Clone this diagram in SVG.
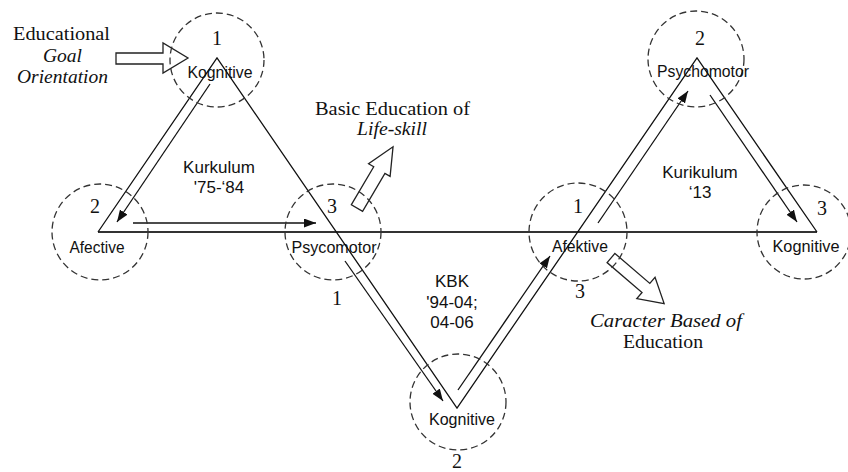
<svg xmlns="http://www.w3.org/2000/svg" width="848" height="472" viewBox="0 0 848 472">
<defs>
<style>
.ring{fill:none;stroke:#333;stroke-width:1.3;stroke-dasharray:7 4}
.lbl{font-family:"Liberation Sans",Arial,sans-serif;font-size:17px;fill:#111;text-anchor:middle}
.cur{font-family:"Liberation Sans",Arial,sans-serif;font-size:17px;fill:#111;text-anchor:middle}
.num{font-family:"Liberation Serif","Times New Roman",serif;font-size:20px;fill:#111;text-anchor:middle}
.ser{font-family:"Liberation Serif","Times New Roman",serif;font-size:18px;fill:#111;text-anchor:middle}
.it{font-style:italic}
.edge{fill:none;stroke:#111;stroke-width:1.3}
.base{fill:none;stroke:#333;stroke-width:2}
.arr{fill:none;stroke:#111;stroke-width:1.3;marker-end:url(#ah)}
.blk{fill:#fff;stroke:#222;stroke-width:1.3;stroke-linejoin:miter}
</style>
<marker id="ah" markerUnits="userSpaceOnUse" markerWidth="12" markerHeight="10" refX="12" refY="4.5" orient="auto">
<path d="M0,0 L12,4.5 L0,9 z" fill="#111"/>
</marker>
</defs>
<rect width="848" height="472" fill="#fff"/>

<g id="connectors">
<line class="base" x1="98" y1="232" x2="817" y2="232"/>
<polyline class="edge" points="98,232 217,58 457,408 697,58 817,232"/>
<line class="arr" x1="210" y1="84" x2="117" y2="222"/>
<line class="arr" x1="133" y1="223" x2="316" y2="223"/>
<line class="arr" x1="345" y1="261" x2="443" y2="401"/>
<line class="arr" x1="458" y1="390" x2="550" y2="256"/>
<line class="arr" x1="598" y1="223" x2="688" y2="91"/>
<line class="arr" x1="710" y1="95" x2="797" y2="222"/>
<path class="blk" d="M116,53 L163,53 L163,43 L188,58 L163,73 L163,64 L116,64 z"/>
<path class="blk" transform="translate(357,208) rotate(-59.5)" d="M0,-6.5 L44,-6.5 L44,-12.5 L71,0 L44,12.5 L44,6.5 L0,6.5 z"/>
<path class="blk" transform="translate(611,258) rotate(40.6)" d="M0,-6 L46,-6 L46,-14 L70,0 L46,14 L46,6 L0,6 z"/>
</g>

<g id="node-kognitive-1">
<circle class="ring" cx="217" cy="60" r="47"/>
<text class="num" x="217" y="45">1</text>
<text class="lbl" x="220" y="78" textLength="65" lengthAdjust="spacingAndGlyphs">Kognitive</text>
</g>
<g id="node-afective">
<circle class="ring" cx="100" cy="232" r="48"/>
<text class="num" x="95" y="213">2</text>
<text class="lbl" x="97" y="253" textLength="55" lengthAdjust="spacingAndGlyphs">Afective</text>
</g>
<g id="node-psycomotor">
<circle class="ring" cx="333" cy="232" r="48"/>
<text class="num" x="332" y="213">3</text>
<text class="lbl" x="334" y="253" textLength="85" lengthAdjust="spacingAndGlyphs">Psycomotor</text>
<text class="num" x="337" y="305">1</text>
</g>
<g id="node-kognitive-2">
<circle class="ring" cx="458" cy="402" r="48"/>
<text class="lbl" x="462" y="425" textLength="66" lengthAdjust="spacingAndGlyphs">Kognitive</text>
<text class="num" x="457" y="468">2</text>
</g>
<g id="node-afektive">
<circle class="ring" cx="578" cy="232" r="49"/>
<text class="num" x="578" y="213">1</text>
<text class="lbl" x="580" y="252" textLength="56" lengthAdjust="spacingAndGlyphs">Afektive</text>
<text class="num" x="580" y="298">3</text>
</g>
<g id="node-psychomotor">
<circle class="ring" cx="696" cy="59" r="48"/>
<text class="num" x="700" y="45">2</text>
<text class="lbl" x="703" y="77" textLength="92" lengthAdjust="spacingAndGlyphs">Psychomotor</text>
</g>
<g id="node-kognitive-3">
<circle class="ring" cx="804" cy="232" r="47"/>
<text class="num" x="822" y="215">3</text>
<text class="lbl" x="806" y="252" textLength="67" lengthAdjust="spacingAndGlyphs">Kognitive</text>
</g>

<g id="labels">
<text class="cur" x="219" y="173">Kurkulum</text>
<text class="cur" x="219" y="193">'75-‘84</text>
<text class="cur" x="452" y="287">KBK</text>
<text class="cur" x="452" y="308">'94-04;</text>
<text class="cur" x="452" y="328">04-06</text>
<text class="cur" x="700" y="178">Kurikulum</text>
<text class="cur" x="700" y="198">‘13</text>
<text class="ser" x="61.5" y="40" textLength="97" lengthAdjust="spacingAndGlyphs">Educational</text>
<text class="ser it" x="62.5" y="62" textLength="39" lengthAdjust="spacingAndGlyphs">Goal</text>
<text class="ser it" x="62.5" y="83" textLength="91" lengthAdjust="spacingAndGlyphs">Orientation</text>
<text class="ser" x="392.5" y="115" textLength="155" lengthAdjust="spacingAndGlyphs">Basic Education of</text>
<text class="ser it" x="392" y="135" textLength="70" lengthAdjust="spacingAndGlyphs">Life-skill</text>
<text class="ser it" x="666" y="327" textLength="152" lengthAdjust="spacingAndGlyphs">Caracter Based of</text>
<text class="ser" x="663" y="348" textLength="80" lengthAdjust="spacingAndGlyphs">Education</text>
</g>
</svg>
